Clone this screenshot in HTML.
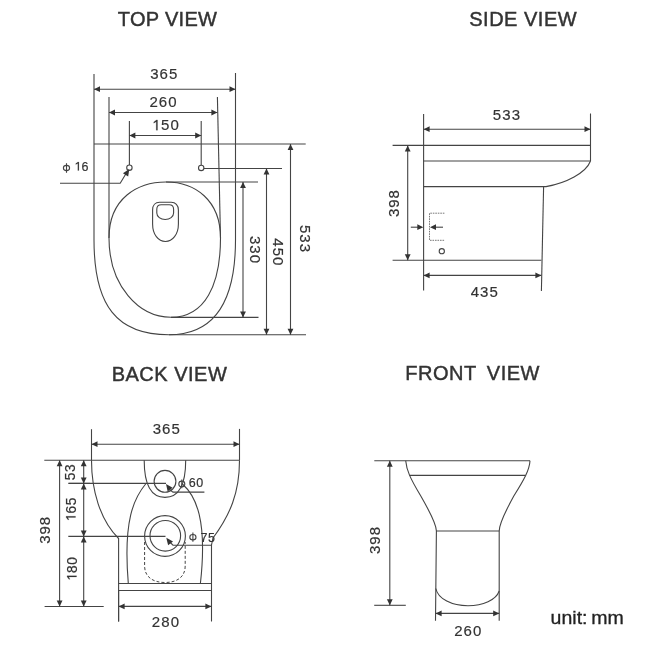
<!DOCTYPE html>
<html><head><meta charset="utf-8"><style>
html,body{margin:0;padding:0;background:#fff;}
body{width:650px;height:650px;overflow:hidden;}
svg{display:block;will-change:transform;}
.l{fill:none;stroke:#444;stroke-width:1.1;}
.d{fill:none;stroke:#444;stroke-width:1;stroke-dasharray:3 2;}
.d2{fill:none;stroke:#777;stroke-width:1;stroke-dasharray:1.6 0.9;}
.ah{fill:#333;stroke:none;}
text{font-family:"Liberation Sans",sans-serif;}
.t{fill:#333;stroke:#333;stroke-width:0.18;}
.one{fill:#333;stroke:#333;stroke-width:25;}
.h{fill:#333;stroke:#333;stroke-width:0.45;}
.u{fill:#222;stroke:#222;stroke-width:0.3;}
</style></head><body>
<svg width="650" height="650" viewBox="0 0 650 650">
<rect width="650" height="650" fill="#fff"/>
<text class="h" x="167.5" y="26.3" font-size="20" text-anchor="middle" letter-spacing="0.3">TOP VIEW</text>
<text class="h" x="523.2" y="26.3" font-size="20" text-anchor="middle" letter-spacing="0.5">SIDE VIEW</text>
<text class="h" x="169.5" y="381.3" font-size="20" text-anchor="middle" letter-spacing="0.5">BACK VIEW</text>
<text class="h" x="405.3" y="379.6" font-size="20" letter-spacing="0.5" word-spacing="-0.8" xml:space="preserve">FRONT  VIEW</text>
<path class="l" d="M94,74 L94,240 C94,306 117,334.8 169,334.8 C214,334.8 235.5,302 235.5,240 L235.5,73"/>
<path class="l" d="M166,182 C138,182 109,198 109,238 C109,286 139,317.3 171,317.3 C205,317.3 220.5,285 220.5,238 C220.5,200 195,182 166,182 Z"/>
<line class="l" x1="109" y1="97" x2="109" y2="238"/>
<path class="l" d="M217.4,97 L220.5,238"/>
<line class="l" x1="129.4" y1="121" x2="129.4" y2="165"/>
<line class="l" x1="201.2" y1="121" x2="201.2" y2="165"/>
<circle class="l" cx="129.4" cy="167.7" r="2.7"/>
<circle class="l" cx="201.2" cy="167.9" r="2.7"/>
<line class="l" x1="94" y1="144" x2="305.7" y2="144"/>
<line class="l" x1="204" y1="168.5" x2="282" y2="168.5"/>
<line class="l" x1="166" y1="182" x2="258" y2="182"/>
<line class="l" x1="171" y1="317.4" x2="258.5" y2="317.4"/>
<line class="l" x1="169" y1="334.8" x2="306" y2="334.8"/>
<line class="l" x1="94" y1="89.2" x2="235.5" y2="89.2"/>
<path class="ah" d="M94.00,89.20 L100.00,86.30 L100.00,92.10 Z"/>
<path class="ah" d="M235.50,89.20 L229.50,92.10 L229.50,86.30 Z"/>
<line class="l" x1="109" y1="112.5" x2="217.4" y2="112.5"/>
<path class="ah" d="M109.00,112.50 L115.00,109.60 L115.00,115.40 Z"/>
<path class="ah" d="M217.40,112.50 L211.40,115.40 L211.40,109.60 Z"/>
<line class="l" x1="129.4" y1="135.5" x2="201.2" y2="135.5"/>
<path class="ah" d="M129.40,135.50 L135.40,132.60 L135.40,138.40 Z"/>
<path class="ah" d="M201.20,135.50 L195.20,138.40 L195.20,132.60 Z"/>
<line class="l" x1="243" y1="182" x2="243" y2="317.4"/>
<path class="ah" d="M243.00,182.00 L245.90,188.00 L240.10,188.00 Z"/>
<path class="ah" d="M243.00,317.40 L240.10,311.40 L245.90,311.40 Z"/>
<line class="l" x1="266.5" y1="168.5" x2="266.5" y2="334.8"/>
<path class="ah" d="M266.50,168.50 L269.40,174.50 L263.60,174.50 Z"/>
<path class="ah" d="M266.50,334.80 L263.60,328.80 L269.40,328.80 Z"/>
<line class="l" x1="290.5" y1="144" x2="290.5" y2="334.8"/>
<path class="ah" d="M290.50,144.00 L293.40,150.00 L287.60,150.00 Z"/>
<path class="ah" d="M290.50,334.80 L287.60,328.80 L293.40,328.80 Z"/>
<text class="t" x="164.3" y="79" font-size="15" text-anchor="middle" letter-spacing="1.1">365</text>
<text class="t" x="163.6" y="106.5" font-size="15" text-anchor="middle" letter-spacing="1.1">260</text>
<text class="t" x="165.8" y="130.2" font-size="15" text-anchor="middle" letter-spacing="1.1"> 50</text><g><path class="one" transform="translate(151.64,130.20) scale(0.00732,-0.00732)" d="M625,0 L625,1160 L290,965 L290,1135 L650,1409 L806,1409 L806,0 Z"/></g>
<g transform="translate(255.5,250) rotate(90)"><text class="t" x="0" y="5.37" font-size="15" text-anchor="middle" letter-spacing="1.0">330</text></g>
<g transform="translate(278.5,252.3) rotate(90)"><text class="t" x="0" y="5.37" font-size="15" text-anchor="middle" letter-spacing="1.0">450</text></g>
<g transform="translate(305.5,239) rotate(90)"><text class="t" x="0" y="5.37" font-size="15" text-anchor="middle" letter-spacing="1.0">533</text></g>
<path class="l" d="M60,183.3 L120.2,183.3 L127,172"/>
<path class="ah" d="M129.30,168.90 L128.18,176.47 L122.94,173.16 Z"/>
<ellipse class="l" cx="66.5" cy="168" rx="3.1" ry="2.6"/>
<line class="l" x1="66.5" y1="163.2" x2="66.5" y2="172.8"/>
<text class="t" x="74" y="170.5" font-size="12.5" text-anchor="start" letter-spacing="0.5"> 6</text><g><path class="one" transform="translate(74.00,170.50) scale(0.00610,-0.00610)" d="M625,0 L625,1160 L290,965 L290,1135 L650,1409 L806,1409 L806,0 Z"/></g>
<path class="l" d="M159.6,202.3 L171.2,202.3 C175.5,202.3 178.4,205.5 178.4,210 L178.4,224 C178.4,234.5 172.5,241.5 165.4,241.5 C158.3,241.5 152.6,234.5 152.6,224 L152.6,210 C152.6,205.5 155.3,202.3 159.6,202.3 Z"/>
<path class="l" d="M161.2,204.7 L169.2,204.7 C171.8,204.7 173.6,206.5 173.6,209.3 L173.6,213 C173.6,216.6 169.9,219.5 165.2,219.5 C160.5,219.5 156.8,216.6 156.8,213 L156.8,209.3 C156.8,206.5 158.6,204.7 161.2,204.7 Z"/>
<line class="l" x1="423.6" y1="114" x2="423.6" y2="290.5"/>
<line class="l" x1="590.5" y1="113.5" x2="590.5" y2="161"/>
<line class="l" x1="392.6" y1="145.4" x2="590.5" y2="145.4"/>
<line class="l" x1="423.6" y1="161" x2="590.5" y2="161"/>
<path class="l" d="M590.5,161 C586,173 566,183 546,186.6 L423.6,186.6"/>
<path class="l" d="M543.6,186.6 L541.4,291"/>
<line class="l" x1="392.6" y1="260.3" x2="541.4" y2="260.3"/>
<line class="l" x1="423.6" y1="129.2" x2="590.5" y2="129.2"/>
<path class="ah" d="M423.60,129.20 L429.60,126.30 L429.60,132.10 Z"/>
<path class="ah" d="M590.50,129.20 L584.50,132.10 L584.50,126.30 Z"/>
<line class="l" x1="407.7" y1="145.4" x2="407.7" y2="260.3"/>
<path class="ah" d="M407.70,145.40 L410.60,151.40 L404.80,151.40 Z"/>
<path class="ah" d="M407.70,260.30 L404.80,254.30 L410.60,254.30 Z"/>
<line class="l" x1="423.6" y1="275.4" x2="541.4" y2="275.4"/>
<path class="ah" d="M423.60,275.40 L429.60,272.50 L429.60,278.30 Z"/>
<path class="ah" d="M541.40,275.40 L535.40,278.30 L535.40,272.50 Z"/>
<text class="t" x="507" y="120.2" font-size="15" text-anchor="middle" letter-spacing="1.1">533</text>
<g transform="translate(393.3,203.1) rotate(-90)"><text class="t" x="0" y="5.37" font-size="15" text-anchor="middle" letter-spacing="1.0">398</text></g>
<text class="t" x="484.8" y="297.4" font-size="15" text-anchor="middle" letter-spacing="1.1">435</text>
<path class="d2" d="M444.4,213.2 L429.5,213.2 L429.5,240.3 L444.4,240.3"/>
<line class="l" x1="410.8" y1="227.2" x2="418" y2="227.2"/>
<path class="ah" d="M423.30,227.20 L417.30,230.10 L417.30,224.30 Z"/>
<line class="l" x1="443" y1="227.2" x2="436" y2="227.2"/>
<path class="ah" d="M430.00,227.20 L436.00,224.30 L436.00,230.10 Z"/>
<circle class="l" cx="441.8" cy="251.2" r="2.6"/>
<line class="l" x1="91.5" y1="429.2" x2="91.5" y2="460.3"/>
<line class="l" x1="239.5" y1="428.9" x2="239.5" y2="460.3"/>
<line class="l" x1="44.3" y1="460.3" x2="239.5" y2="460.3"/>
<line class="l" x1="91.5" y1="444.2" x2="239.5" y2="444.2"/>
<path class="ah" d="M91.50,444.20 L97.50,441.30 L97.50,447.10 Z"/>
<path class="ah" d="M239.50,444.20 L233.50,447.10 L233.50,441.30 Z"/>
<path class="l" d="M91.5,460.3 C91.5,490 100,520 118.6,538.5 L118.6,621.6"/>
<path class="l" d="M239.5,460.3 C239.5,493 230,515 213,538 L211.5,545 L211.5,621.6"/>
<line class="l" x1="118.6" y1="583.5" x2="211.5" y2="583.5"/>
<line class="l" x1="118.6" y1="590.5" x2="211.5" y2="590.5"/>
<path class="l" d="M144.2,460.3 C144.2,470 144.5,497.4 165,497.4 C185,497.4 185.7,470 185.7,460.3"/>
<path class="l" d="M146,483.5 C134,498 123,520 128.3,583.5"/>
<path class="l" d="M182.4,484 C196,496 207.5,520 200.4,583.5"/>
<circle class="l" cx="165" cy="481.3" r="10.9"/>
<circle class="l" cx="165" cy="536" r="20.4"/>
<circle class="l" cx="165.3" cy="535.8" r="15.3"/>
<path class="d" d="M144.6,542 L144.6,566 C144.6,577 153,582.5 165,582.5 C177,582.5 185.2,577 185.2,566 L185.2,542"/>
<line class="l" x1="68.5" y1="483.4" x2="166" y2="483.4"/>
<path class="l" d="M169.8,489.7 L173,492.1 L204.4,492.1"/>
<path class="ah" d="M166.00,484.00 L172.66,487.78 L167.68,491.47 Z"/>
<line class="l" x1="68.3" y1="536.4" x2="165.5" y2="536.4"/>
<path class="l" d="M169.8,542 L173,545.2 L211.5,545.2"/>
<path class="ah" d="M166.30,537.80 L173.03,541.45 L168.12,545.24 Z"/>
<ellipse class="l" cx="181.8" cy="483.9" rx="3.0" ry="2.8"/>
<line class="l" x1="181.8" y1="479.5" x2="181.8" y2="488.29999999999995"/>
<text class="t" x="188.8" y="486.9" font-size="12.5" text-anchor="start" letter-spacing="0.5">60</text>
<ellipse class="l" cx="192.9" cy="537.2" rx="3.1" ry="2.7"/>
<line class="l" x1="192.9" y1="532.6" x2="192.9" y2="541.8000000000001"/>
<text class="t" x="200.5" y="541.5" font-size="12.5" text-anchor="start" letter-spacing="0.5">75</text>
<line class="l" x1="44.6" y1="606.5" x2="103.7" y2="606.5"/>
<line class="l" x1="59.6" y1="460.3" x2="59.6" y2="606.5"/>
<path class="ah" d="M59.60,460.30 L62.50,466.30 L56.70,466.30 Z"/>
<path class="ah" d="M59.60,606.50 L56.70,600.50 L62.50,600.50 Z"/>
<line class="l" x1="68.5" y1="483.4" x2="90" y2="483.4"/>
<line class="l" x1="83.7" y1="460.3" x2="83.7" y2="483.4"/>
<path class="ah" d="M83.70,460.30 L86.60,466.30 L80.80,466.30 Z"/>
<path class="ah" d="M83.70,483.40 L80.80,477.40 L86.60,477.40 Z"/>
<line class="l" x1="83.7" y1="483.4" x2="83.7" y2="536.4"/>
<path class="ah" d="M83.70,483.40 L86.60,489.40 L80.80,489.40 Z"/>
<path class="ah" d="M83.70,536.40 L80.80,530.40 L86.60,530.40 Z"/>
<line class="l" x1="83.7" y1="536.4" x2="83.7" y2="606.5"/>
<path class="ah" d="M83.70,536.40 L86.60,542.40 L80.80,542.40 Z"/>
<path class="ah" d="M83.70,606.50 L80.80,600.50 L86.60,600.50 Z"/>
<g transform="translate(44.5,529.8) rotate(-90)"><text class="t" x="0" y="5.37" font-size="15" text-anchor="middle" letter-spacing="1.0">398</text></g>
<g transform="translate(69.8,471.9) rotate(-90)"><text class="t" x="0" y="4.94" font-size="13.8" text-anchor="middle" letter-spacing="0.6">53</text></g>
<g transform="translate(70.6,509.3) rotate(-90)"><text class="t" x="0" y="4.94" font-size="13.8" text-anchor="middle" letter-spacing="0.6"> 65</text><g><path class="one" transform="translate(-12.41,4.94) scale(0.00674,-0.00674)" d="M625,0 L625,1160 L290,965 L290,1135 L650,1409 L806,1409 L806,0 Z"/></g></g>
<g transform="translate(71.6,568.8) rotate(-90)"><text class="t" x="0" y="4.94" font-size="13.8" text-anchor="middle" letter-spacing="0.6"> 80</text><g><path class="one" transform="translate(-12.41,4.94) scale(0.00674,-0.00674)" d="M625,0 L625,1160 L290,965 L290,1135 L650,1409 L806,1409 L806,0 Z"/></g></g>
<text class="t" x="166.8" y="434.4" font-size="15" text-anchor="middle" letter-spacing="1.1">365</text>
<line class="l" x1="118.6" y1="590.5" x2="118.6" y2="621.6"/>
<line class="l" x1="118.6" y1="606.4" x2="211.4" y2="606.4"/>
<path class="ah" d="M118.60,606.40 L124.60,603.50 L124.60,609.30 Z"/>
<path class="ah" d="M211.40,606.40 L205.40,609.30 L205.40,603.50 Z"/>
<text class="t" x="166" y="626.6" font-size="15" text-anchor="middle" letter-spacing="1.1">280</text>
<line class="l" x1="374.3" y1="460.8" x2="530" y2="460.8"/>
<path class="l" d="M405.7,460.8 C406.5,470 410,478 420.8,496 C430,512 436.4,525 436.4,531 L435.5,620.8"/>
<path class="l" d="M530,460.8 C529.5,470 524,480 513.8,496 C505,512 499.2,525 499.2,531 L499.2,620.8"/>
<line class="l" x1="409.7" y1="475.4" x2="525.4" y2="475.4"/>
<line class="l" x1="436.2" y1="531" x2="499.2" y2="531"/>
<path class="l" d="M435.8,588.5 C438,599 452,605.8 468,605.8 C483,605.8 496,600 499.2,591"/>
<line class="l" x1="435.6" y1="613.4" x2="499.2" y2="613.4"/>
<path class="ah" d="M435.60,613.40 L441.60,610.50 L441.60,616.30 Z"/>
<path class="ah" d="M499.20,613.40 L493.20,616.30 L493.20,610.50 Z"/>
<text class="t" x="468.3" y="635.8" font-size="15" text-anchor="middle" letter-spacing="1.1">260</text>
<line class="l" x1="374.2" y1="605.3" x2="405.8" y2="605.3"/>
<line class="l" x1="389.8" y1="460.8" x2="389.8" y2="605.3"/>
<path class="ah" d="M389.80,460.80 L392.70,466.80 L386.90,466.80 Z"/>
<path class="ah" d="M389.80,605.30 L386.90,599.30 L392.70,599.30 Z"/>
<g transform="translate(374.5,540) rotate(-90)"><text class="t" x="0" y="5.37" font-size="15" text-anchor="middle" letter-spacing="1.0">398</text></g>
<text class="u" x="0" y="0" font-size="18" word-spacing="-1.5" transform="translate(550.6,624) scale(1.085,1)">unit: mm</text>
</svg>
</body></html>
